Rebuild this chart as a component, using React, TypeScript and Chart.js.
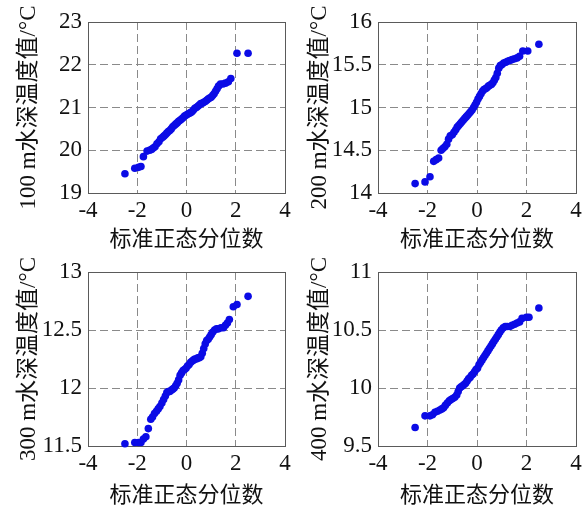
import React, { useEffect, useRef } from "react";
import { Chart, registerables } from "chart.js";

Chart.register(...registerables);

// ---- data ----
const xTickLabels = [-4, -2, 0, 2, 4];
const xAxisTitle = "标准正态分位数";

const q100X = [-2.5, -2.1, -1.95, -1.85, -1.75, -1.6, -1.5, -1.42, -1.35, -1.28, -1.2, -1.12, -1.05, -0.98, -0.92, -0.86, -0.8, -0.74, -0.68, -0.62, -0.56, -0.5, -0.44, -0.38, -0.32, -0.26, -0.2, -0.14, -0.08, -0.02, 0.04, 0.1, 0.16, 0.22, 0.28, 0.34, 0.4, 0.46, 0.52, 0.58, 0.64, 0.7, 0.76, 0.82, 0.88, 0.94, 1.0, 1.06, 1.12, 1.18, 1.24, 1.3, 1.38, 1.48, 1.58, 1.7, 1.8, 2.05, 2.5];
const q100Y = [19.45, 19.58, 19.6, 19.62, 19.85, 19.98, 20.0, 20.02, 20.05, 20.08, 20.15, 20.2, 20.27, 20.3, 20.33, 20.36, 20.4, 20.44, 20.46, 20.5, 20.55, 20.58, 20.61, 20.64, 20.68, 20.7, 20.73, 20.76, 20.8, 20.82, 20.84, 20.86, 20.88, 20.9, 20.94, 20.98, 21.0, 21.03, 21.06, 21.09, 21.1, 21.12, 21.14, 21.17, 21.2, 21.22, 21.24, 21.28, 21.32, 21.38, 21.44, 21.5, 21.55, 21.55, 21.57, 21.6, 21.68, 22.27, 22.27];

const q200X = [-2.5, -2.1, -1.9, -1.75, -1.65, -1.55, -1.45, -1.38, -1.3, -1.22, -1.15, -1.08, -1.0, -0.93, -0.86, -0.8, -0.74, -0.68, -0.62, -0.56, -0.5, -0.44, -0.38, -0.32, -0.26, -0.2, -0.14, -0.08, -0.02, 0.04, 0.1, 0.16, 0.22, 0.28, 0.34, 0.4, 0.46, 0.52, 0.58, 0.64, 0.7, 0.76, 0.82, 0.88, 0.94, 1.0, 1.08, 1.16, 1.24, 1.32, 1.42, 1.52, 1.62, 1.72, 1.85, 2.05, 2.5];
const q200Y = [14.11, 14.13, 14.19, 14.37, 14.39, 14.41, 14.5, 14.52, 14.54, 14.57, 14.63, 14.67, 14.68, 14.71, 14.74, 14.77, 14.79, 14.81, 14.83, 14.85, 14.87, 14.89, 14.91, 14.93, 14.95, 14.97, 15.0, 15.03, 15.06, 15.1, 15.13, 15.16, 15.19, 15.21, 15.22, 15.23, 15.25, 15.26, 15.27, 15.29, 15.32, 15.35, 15.4, 15.46, 15.49, 15.5, 15.52, 15.53, 15.54, 15.55, 15.56, 15.57, 15.58, 15.6, 15.66, 15.66, 15.74];

const q300X = [-2.5, -2.1, -1.95, -1.85, -1.75, -1.65, -1.55, -1.45, -1.38, -1.3, -1.22, -1.15, -1.08, -1.0, -0.93, -0.86, -0.8, -0.74, -0.68, -0.62, -0.56, -0.5, -0.44, -0.38, -0.32, -0.26, -0.2, -0.14, -0.08, -0.02, 0.04, 0.1, 0.16, 0.22, 0.28, 0.34, 0.4, 0.46, 0.52, 0.58, 0.64, 0.7, 0.76, 0.82, 0.88, 0.94, 1.0, 1.06, 1.14, 1.22, 1.3, 1.4, 1.5, 1.58, 1.66, 1.74, 1.9, 2.05, 2.5];
const q300Y = [11.52, 11.53, 11.53, 11.53, 11.56, 11.58, 11.65, 11.73, 11.75, 11.78, 11.8, 11.82, 11.84, 11.87, 11.9, 11.93, 11.96, 11.97, 11.97, 11.98, 11.99, 12.0, 12.02, 12.04, 12.07, 12.11, 12.13, 12.15, 12.16, 12.17, 12.19, 12.2, 12.22, 12.23, 12.24, 12.25, 12.25, 12.26, 12.26, 12.27, 12.3, 12.34, 12.38, 12.41, 12.42, 12.44, 12.46, 12.48, 12.5, 12.51, 12.51, 12.52, 12.52, 12.54, 12.56, 12.59, 12.7, 12.72, 12.79];

const q400X = [-2.5, -2.1, -1.9, -1.8, -1.7, -1.6, -1.5, -1.42, -1.35, -1.28, -1.2, -1.12, -1.05, -0.98, -0.9, -0.82, -0.76, -0.7, -0.64, -0.58, -0.52, -0.46, -0.4, -0.34, -0.28, -0.22, -0.16, -0.1, -0.04, 0.02, 0.08, 0.14, 0.2, 0.26, 0.32, 0.38, 0.44, 0.5, 0.56, 0.62, 0.68, 0.74, 0.8, 0.86, 0.92, 0.98, 1.06, 1.14, 1.22, 1.32, 1.42, 1.52, 1.62, 1.72, 1.82, 2.0, 2.1, 2.5];
const q400Y = [9.66, 9.76, 9.76, 9.77, 9.79, 9.8, 9.81, 9.82, 9.83, 9.85, 9.87, 9.89, 9.9, 9.91, 9.92, 9.94, 9.97, 10.0, 10.01, 10.02, 10.03, 10.04, 10.06, 10.08, 10.09, 10.11, 10.12, 10.14, 10.16, 10.17, 10.2, 10.22, 10.24, 10.26, 10.28, 10.3, 10.32, 10.34, 10.36, 10.38, 10.4, 10.42, 10.44, 10.46, 10.48, 10.5, 10.52, 10.53, 10.53, 10.53, 10.54, 10.55, 10.56, 10.57, 10.6, 10.61, 10.61, 10.69];

const y100Ticks = [19, 20, 21, 22, 23];
const y200Ticks = [14, 14.5, 15, 15.5, 16];
const y300Ticks = [11.5, 12, 12.5, 13];
const y400Ticks = [9.5, 10, 10.5, 11];

const yTitles = ["100 m水深温度值/°C", "200 m水深温度值/°C", "300 m水深温度值/°C", "400 m水深温度值/°C"];

// ---- styling ----
const FONT = "'Liberation Serif', 'Noto Sans CJK SC', serif";
const POINT_COLOR = "#0b0be6";
const GRID_COLOR = "#8a8a8a";
const FRAME_COLOR = "#5a5a5a";

interface PanelSpec {
  left: number;
  top: number;
  xs: number[];
  ys: number[];
  yTicks: number[];
  title: string;
  padTop: number;
  yWidth: number;
  xHeight: number;
}

const panels: PanelSpec[] = [
  { left: 0, top: 0, xs: q100X, ys: q100Y, yTicks: y100Ticks, title: yTitles[0], padTop: 22, yWidth: 88, xHeight: 63 },
  { left: 291, top: 0, xs: q200X, ys: q200Y, yTicks: y200Ticks, title: yTitles[1], padTop: 22, yWidth: 87, xHeight: 63 },
  { left: 0, top: 256, xs: q300X, ys: q300Y, yTicks: y300Ticks, title: yTitles[2], padTop: 16, yWidth: 88, xHeight: 66 },
  { left: 291, top: 256, xs: q400X, ys: q400Y, yTicks: y400Ticks, title: yTitles[3], padTop: 16, yWidth: 87, xHeight: 66 },
];

const framePlugin = {
  id: "frame",
  beforeDatasetsDraw(chart: any) {
    const { ctx, chartArea } = chart;
    ctx.save();
    ctx.strokeStyle = FRAME_COLOR;
    ctx.lineWidth = 1;
    ctx.strokeRect(
      Math.round(chartArea.left) + 0.5,
      Math.round(chartArea.top) + 0.5,
      Math.round(chartArea.right - chartArea.left),
      Math.round(chartArea.bottom - chartArea.top)
    );
    ctx.restore();
  },
};

function Panel({ spec }: { spec: PanelSpec }) {
  const ref = useRef<HTMLCanvasElement | null>(null);
  useEffect(() => {
    if (!ref.current) return;
    const yMin = spec.yTicks[0];
    const yMax = spec.yTicks[spec.yTicks.length - 1];
    const xMin = xTickLabels[0];
    const xMax = xTickLabels[xTickLabels.length - 1];
    const interiorColor = (min: number, max: number) => (c: any) => {
      const v = c.tick ? c.tick.value : null;
      if (v === null || Math.abs(v - min) < 1e-9 || Math.abs(v - max) < 1e-9) return "rgba(0,0,0,0)";
      return GRID_COLOR;
    };
    const chart = new Chart(ref.current, {
      type: "scatter",
      data: {
        datasets: [
          {
            data: spec.xs.map((x, i) => ({ x, y: spec.ys[i] })),
            backgroundColor: POINT_COLOR,
            borderColor: POINT_COLOR,
            borderWidth: 0,
            pointRadius: 3.8,
            clip: false as any,
          },
        ],
      },
      options: {
        animation: false,
        responsive: false,
        events: [],
        layout: { padding: { top: spec.padTop, right: 6, left: 0, bottom: 0 } },
        plugins: { legend: { display: false }, tooltip: { enabled: false } },
        scales: {
          x: {
            type: "linear",
            min: xMin,
            max: xMax,
            afterBuildTicks: (s: any) => {
              s.ticks = xTickLabels.map((v) => ({ value: v }));
            },
            afterFit: (s: any) => {
              s.height = spec.xHeight;
              s.paddingLeft = 0;
              s.paddingRight = 0;
            },
            ticks: {
              color: "#111",
              font: { family: FONT, size: 23 },
              padding: 4,
              maxRotation: 0,
              callback: (v: any) => String(v),
            },
            grid: { color: interiorColor(xMin, xMax), drawTicks: false, lineWidth: 1 },
            border: { display: false, dash: [8, 4] },
            title: {
              display: true,
              text: xAxisTitle,
              color: "#111",
              font: { family: FONT, size: 22 },
              padding: { top: 0, bottom: 3 },
            },
          },
          y: {
            type: "linear",
            min: yMin,
            max: yMax,
            afterBuildTicks: (s: any) => {
              s.ticks = spec.yTicks.map((v) => ({ value: v }));
            },
            afterFit: (s: any) => {
              s.width = spec.yWidth;
              s.paddingTop = 0;
              s.paddingBottom = 0;
            },
            ticks: {
              color: "#111",
              font: { family: FONT, size: 23 },
              padding: 6,
              callback: (v: any) => String(v),
            },
            grid: { color: interiorColor(yMin, yMax), drawTicks: false, lineWidth: 1 },
            border: { display: false, dash: [8, 4] },
            title: {
              display: true,
              text: spec.title,
              color: "#111",
              font: { family: FONT, size: 23 },
              padding: { top: 15, bottom: 0 },
            },
          },
        },
      },
      plugins: [framePlugin],
    });
    return () => chart.destroy();
  }, [spec]);
  return (
    <div style={{ position: "absolute", left: spec.left, top: spec.top, width: 291, height: 256 }}>
      <canvas ref={ref} width={291} height={256} style={{ width: 291, height: 256, display: "block" }} />
    </div>
  );
}

export default function App() {
  return (
    <div style={{ position: "absolute", left: 0, top: 0, width: 582, height: 512, background: "#fff" }}>
      {panels.map((p, i) => (
        <Panel key={i} spec={p} />
      ))}
    </div>
  );
}
